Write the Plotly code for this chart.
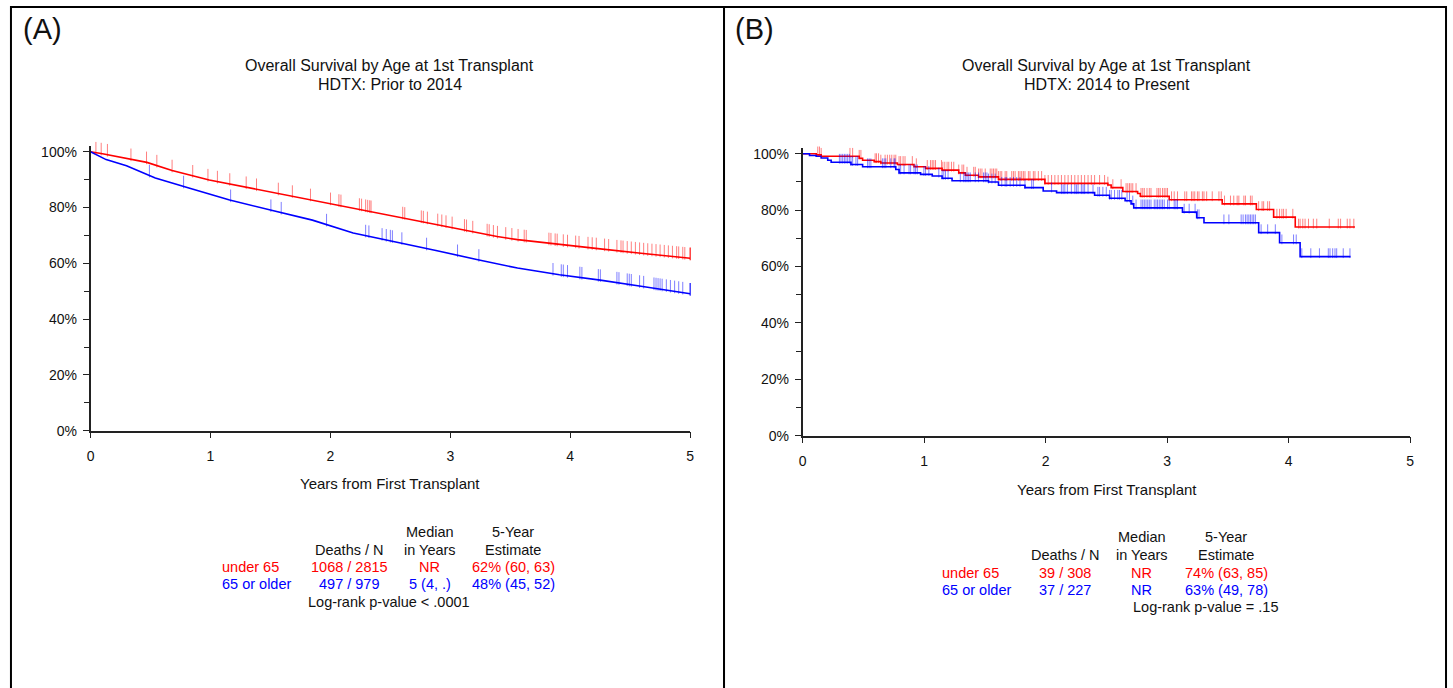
import numpy as np
import plotly.graph_objects as go

W, H = 1453, 688

# ---------------- Panel A data (Prior to 2014) ----------------
a_u65_t = [0, 0.10, 0.47, 0.68, 0.99, 1.50, 1.85, 2.36, 2.88, 3.39, 3.56, 3.91, 4.25, 4.59, 5.00]
a_u65_s = [100, 99.3, 96.2, 93.3, 89.9, 85.6, 82.8, 78.5, 74.1, 69.6, 68.5, 66.7, 65.2, 63.6, 61.8]
a_o65_t = [0, 0.10, 0.13, 0.30, 0.54, 0.82, 1.16, 1.50, 1.85, 2.19, 2.53, 2.88, 3.22, 3.56, 3.91, 4.25, 4.59, 5.00]
a_o65_s = [100, 98.0, 97.2, 95.0, 90.6, 87.0, 82.7, 79.1, 75.5, 70.9, 67.9, 64.6, 61.4, 58.3, 55.9, 54.0, 51.8, 49.1]

a_u65_cens = [0.045, 0.089, 0.141, 0.337, 0.467, 0.553, 0.680, 0.852, 0.979, 1.058, 1.161, 1.298, 1.384,
              1.566, 1.683, 1.834, 2.001, 2.071, 2.088, 2.242, 2.260, 2.294, 2.311, 2.328, 2.339, 2.603,
              2.620, 2.758, 2.775, 2.809, 2.895, 2.929, 2.964, 3.015, 3.118, 3.135, 3.187, 3.307, 3.324,
              3.359, 3.393, 3.462, 3.513, 3.565, 3.616, 3.633, 3.822, 3.839, 3.874, 3.891, 3.942, 3.977,
              4.045, 4.073, 4.148, 4.183, 4.217, 4.286, 4.320, 4.389, 4.423, 4.440, 4.475, 4.509, 4.543,
              4.578, 4.612, 4.646, 4.681, 4.715, 4.749, 4.784, 4.818, 4.852, 4.887, 4.904, 4.938, 4.955,
              5.0, 5.0, 5.0]
a_o65_cens = [0.491, 0.776, 1.168, 1.504, 1.590, 1.968, 2.294, 2.321, 2.431, 2.466, 2.500, 2.517, 2.596,
              2.802, 3.060, 3.238, 3.856, 3.925, 3.942, 3.977, 4.080, 4.097, 4.234, 4.251, 4.389, 4.406,
              4.475, 4.492, 4.509, 4.578, 4.612, 4.698, 4.715, 4.732, 4.749, 4.766, 4.801, 4.835, 4.870,
              4.904, 4.938, 5.0, 5.0, 5.0]

# ---------------- Panel B data (2014 to Present) ----------------
b_u65_t = [0, 0.112, 0.153, 0.466, 0.494, 0.589, 0.644, 0.780, 0.917, 1.012, 1.148, 1.285, 1.339, 1.448,
           1.612, 1.994, 2.512, 2.539, 2.635, 2.757, 2.779, 3.017, 3.453, 3.734, 3.876, 4.054, 4.545]
b_u65_s = [100, 99.6, 99.1, 98.4, 97.7, 97.2, 96.7, 96.2, 95.4, 94.8, 94.2, 93.2, 92.4, 91.8,
           90.9, 89.5, 88.9, 88.0, 86.6, 85.9, 84.9, 83.7, 82.2, 80.2, 77.5, 74.0, 74.0]
b_o65_t = [0, 0.057, 0.112, 0.153, 0.207, 0.235, 0.398, 0.494, 0.767, 0.794, 0.971, 1.067, 1.148, 1.230,
           1.530, 1.612, 1.830, 1.980, 2.090, 2.403, 2.526, 2.654, 2.703, 2.725, 3.126, 3.243, 3.303,
           3.753, 3.925, 4.094, 4.509]
b_o65_s = [100, 99.4, 99.1, 98.5, 97.7, 97.0, 96.2, 95.4, 94.4, 93.2, 92.7, 92.1, 91.3, 90.4,
           90.0, 88.8, 88.0, 86.8, 86.2, 85.3, 84.2, 83.3, 82.2, 80.8, 79.3, 77.3, 75.5,
           72.0, 68.4, 63.5, 63.5]

b_u65_cens = [0.125, 0.139, 0.153, 0.390, 0.412, 0.466, 0.480, 0.597, 0.608, 0.625, 0.644, 0.679, 0.698,
              0.717, 0.734, 0.753, 0.767, 0.794, 0.807, 0.827, 0.843, 0.903, 0.936, 1.026, 1.053, 1.067,
              1.080, 1.094, 1.143, 1.154, 1.170, 1.189, 1.203, 1.225, 1.244, 1.285, 1.312, 1.326, 1.353,
              1.408, 1.421, 1.448, 1.462, 1.476, 1.503, 1.544, 1.558, 1.571, 1.585, 1.598, 1.612, 1.626,
              1.639, 1.667, 1.680, 1.721, 1.735, 1.749, 1.776, 1.789, 1.803, 1.817, 1.830, 1.858, 1.871,
              1.899, 1.912, 1.940, 1.967, 1.994, 2.021, 2.049, 2.076, 2.103, 2.130, 2.158, 2.185, 2.212,
              2.240, 2.267, 2.294, 2.321, 2.349, 2.376, 2.403, 2.444, 2.485, 2.512, 2.553,
              2.621, 2.662, 2.676, 2.690, 2.703, 2.717, 2.744, 2.785, 2.799, 2.812, 2.834, 2.853, 2.867,
              2.916, 2.930, 2.943, 2.962, 2.976, 2.990, 3.003, 3.036, 3.058, 3.085, 3.145, 3.161, 3.200,
              3.213, 3.227, 3.249, 3.262, 3.290, 3.303, 3.325, 3.371, 3.426, 3.445, 3.472, 3.521, 3.548,
              3.576, 3.590, 3.631, 3.644, 3.685, 3.699, 3.753, 3.781, 3.794, 3.827, 3.843, 3.903, 3.925,
              3.944, 3.958, 3.979, 4.034, 4.081, 4.094, 4.116, 4.135, 4.163, 4.203, 4.231, 4.334, 4.408,
              4.427, 4.482, 4.504, 4.536]
b_o65_cens = [0.303, 0.316, 0.330, 0.344, 0.357, 0.371, 0.385, 0.398, 0.412, 0.439, 0.453, 0.535, 0.548,
              0.562, 0.657, 0.671, 0.685, 0.726, 0.753, 0.761, 0.794, 0.807, 0.835, 0.876, 0.889, 0.917,
              0.930, 0.944, 0.998, 1.012, 1.039, 1.121, 1.148, 1.162, 1.176, 1.197, 1.298, 1.326, 1.339,
              1.353, 1.367, 1.380, 1.421, 1.448, 1.489, 1.503, 1.517, 1.530, 1.558, 1.585, 1.639, 1.667,
              1.680, 1.708, 1.735, 1.762, 1.789, 1.830, 1.885, 1.899, 2.049, 2.130, 2.144, 2.158, 2.179,
              2.212, 2.240, 2.253, 2.267, 2.294, 2.308, 2.321, 2.349, 2.390, 2.430, 2.444, 2.471, 2.499,
              2.526, 2.540, 2.567,
              2.594, 2.608, 2.627, 2.670, 2.690, 2.717, 2.744, 2.785, 2.799, 2.812, 2.826, 2.840, 2.853,
              2.867, 2.894, 2.908, 2.921, 2.935, 2.949, 2.962, 2.976, 3.003, 3.017, 3.058, 3.072, 3.085,
              3.140, 3.181, 3.230, 3.249, 3.262, 3.467, 3.508, 3.609, 3.625, 3.644, 3.658, 3.672, 3.685,
              3.699, 3.712, 3.726, 3.773, 3.827, 3.890, 3.944, 4.040, 4.062, 4.108, 4.182, 4.253, 4.326,
              4.340, 4.362, 4.381, 4.395, 4.449, 4.504]

# ---------------- Text content ----------------
titles = {"A": ["Overall Survival by Age at 1st Transplant", "HDTX: Prior to 2014"],
          "B": ["Overall Survival by Age at 1st Transplant", "HDTX: 2014 to Present"]}
x_title = "Years from First Transplant"
group_labels = ["under 65", "65 or older"]
table_A = [["1068 / 2815", "NR", "62% (60, 63)"], ["497 / 979", "5 (4, .)", "48% (45, 52)"]]
table_B = [["39 / 308", "NR", "74% (63, 85)"], ["37 / 227", "NR", "63% (49, 78)"]]
logrank = {"A": "Log-rank p-value < .0001", "B": "Log-rank p-value = .15"}
y_ticks = [0, 20, 40, 60, 80, 100]
y_minor = [10, 30, 50, 70, 90]
x_ticks = [0, 1, 2, 3, 4, 5]

RED, BLUE = "#ff0000", "#0000ff"
RED_T, BLUE_T = "rgba(255,0,0,0.5)", "rgba(0,0,255,0.5)"
FONT = "Liberation Sans, Arial, sans-serif"


def px(x, y):
    return x / W, 1 - y / H


def step_lookup(t_arr, s_arr, t):
    idx = np.searchsorted(np.array(t_arr), t, side="right") - 1
    return np.array(s_arr)[np.clip(idx, 0, len(s_arr) - 1)]


fig = go.Figure()

# panel A curves (large N - drawn as continuous line)
for t, s, c in [(a_u65_t, a_u65_s, RED), (a_o65_t, a_o65_s, BLUE)]:
    fig.add_trace(go.Scatter(x=t, y=s, mode="lines", line=dict(color=c, width=1.6),
                             xaxis="x", yaxis="y", hoverinfo="skip"))
TICK_A = 9
for ct, t, s, c in [(a_u65_cens, a_u65_t, a_u65_s, RED_T), (a_o65_cens, a_o65_t, a_o65_s, BLUE_T)]:
    base = np.interp(ct, t, s)
    fig.add_trace(go.Scatter(x=ct, y=base + (TICK_A / 2) / 2.83, mode="markers", cliponaxis=False,
                             marker=dict(symbol="line-ns-open", size=TICK_A, color=c,
                                         line=dict(color=c, width=1)),
                             xaxis="x", yaxis="y", hoverinfo="skip"))

# panel B curves (step)
for t, s, c in [(b_u65_t, b_u65_s, RED), (b_o65_t, b_o65_s, BLUE)]:
    fig.add_trace(go.Scatter(x=t, y=s, mode="lines", line=dict(color=c, width=1.6, shape="hv"),
                             xaxis="x2", yaxis="y2", hoverinfo="skip"))
TICK_B = 7
for ct, t, s, c in [(b_u65_cens, b_u65_t, b_u65_s, RED_T), (b_o65_cens, b_o65_t, b_o65_s, BLUE_T)]:
    base = step_lookup(t, s, np.array(ct))
    fig.add_trace(go.Scatter(x=ct, y=base + (TICK_B / 2) / 2.86, mode="markers", cliponaxis=False,
                             marker=dict(symbol="line-ns-open", size=TICK_B, color=c,
                                         line=dict(color=c, width=1)),
                             xaxis="x2", yaxis="y2", hoverinfo="skip"))

axis_common = dict(showline=True, linecolor="#222", linewidth=1.6, showgrid=False, zeroline=False,
                   ticks="outside", ticklen=6, tickwidth=1.4, tickcolor="#222",
                   tickfont=dict(family=FONT, size=14, color="#111"), fixedrange=True)

xa = dict(axis_common, range=[0, 5], tickvals=x_ticks, ticktext=[str(v) for v in x_ticks],
          ticklabelstandoff=6)
ya = dict(axis_common, range=[0, 102], tickvals=y_ticks, ticktext=[f"{v}%" for v in y_ticks],
          ticklabelstandoff=3,
          minor=dict(tickvals=y_minor, ticks="outside", ticklen=5, tickwidth=1.4, tickcolor="#222"))

fig.update_layout(
    width=W, height=H, margin=dict(l=0, r=0, t=0, b=0),
    paper_bgcolor="white", plot_bgcolor="white", showlegend=False,
    xaxis=dict(xa, domain=[87 / W, 690 / W], anchor="y"),
    yaxis=dict(ya, domain=[1 - 435 / H, 1 - (435 - 102 * 2.83) / H], anchor="x"),
    xaxis2=dict(xa, domain=[803 / W, 1414 / W], anchor="y2"),
    yaxis2=dict(ya, domain=[1 - 440 / H, 1 - (440 - 102 * 2.86) / H], anchor="x2"),
)

# panel borders
shapes = []
for x0, x1 in [(7, 724), (724, 1450)]:
    shapes.append(dict(type="rect", xref="paper", yref="paper",
                       x0=x0 / W, x1=x1 / W, y0=-0.2, y1=1 - 5 / H,
                       line=dict(color="black", width=2), fillcolor="rgba(0,0,0,0)"))
fig.update_layout(shapes=shapes)

ann = []


def text(x, y, s, size=14.5, color="#111", xanchor="center"):
    xp, yp = px(x, y)
    ann.append(dict(x=xp, y=yp, xref="paper", yref="paper", text=s, showarrow=False,
                    xanchor=xanchor, yanchor="middle", font=dict(family=FONT, size=size, color=color)))


# panel letters
text(17, 27, "(A)", size=29, xanchor="left")
text(733, 27, "(B)", size=29, xanchor="left")

# titles
for key, cx in [("A", 388), ("B", 1109)]:
    text(cx, 64, titles[key][0], size=16)
    text(cx, 84, titles[key][1], size=16)

text(388, 489, x_title, size=15)
text(1109, 495, x_title, size=15)

# tables
layouts = {
    "A": dict(tab=table_A, lab_x=217, cols=[347, 428, 512], rows=[538, 556, 573, 591, 609], lr=387),
    "B": dict(tab=table_B, lab_x=941, cols=[1067, 1144, 1229], rows=[543, 561, 579, 597, 614], lr=1209),
}
for key, L in layouts.items():
    c, r = L["cols"], L["rows"]
    text(c[1], r[0], "Median")
    text(c[2], r[0], "5-Year")
    text(c[0], r[1], "Deaths / N")
    text(c[1], r[1], "in Years")
    text(c[2], r[1], "Estimate")
    for i, (lab, col) in enumerate(zip(group_labels, [RED, BLUE])):
        text(L["lab_x"], r[2 + i], lab, color=col, xanchor="left")
        for j in range(3):
            text(c[j], r[2 + i], L["tab"][i][j], color=col)
    text(L["lr"], r[4], logrank[key])

fig.update_layout(annotations=ann)
fig.write_html("out.html")
